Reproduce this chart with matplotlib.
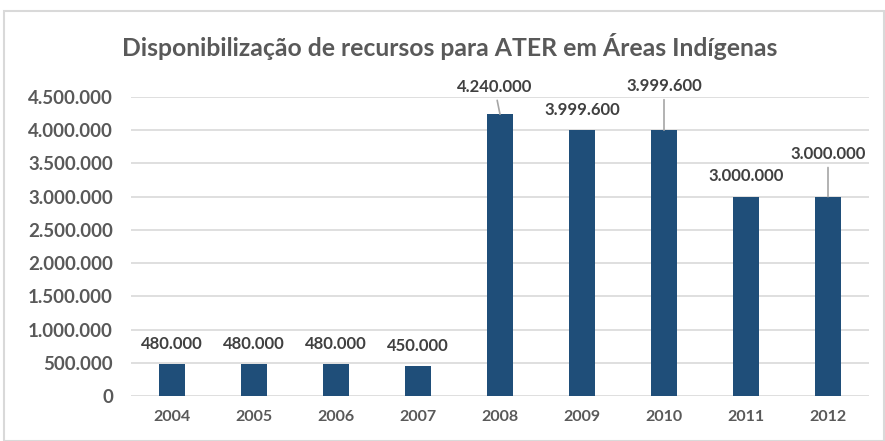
import matplotlib.pyplot as plt
from matplotlib.ticker import FuncFormatter, MultipleLocator

years = ["2004", "2005", "2006", "2007", "2008", "2009", "2010", "2011", "2012"]
values = [480000, 480000, 480000, 450000, 4240000, 3999600, 3999600, 3000000, 3000000]
# labels that Excel moved up, with a leader line (offset in points)
label_offsets = {"2008": (-4, 14), "2010": (0, 26), "2012": (0, 25)}

BAR = "#1F4E79"
TEXT = "#595959"
GRID = "#D9D9D9"

plt.rcParams["font.family"] = ["Lato", "DejaVu Sans"]


def fmt(v, pos=None):
    return f"{int(v):,}".replace(",", ".")


fig = plt.figure(figsize=(8.85, 4.41), dpi=100)
ax = fig.add_axes([131 / 885, 1 - 396 / 441, (869 - 131) / 885, (396 - 97) / 441])

x = range(len(years))
ax.bar(x, values, width=0.31, color=BAR, zorder=3)

ax.set_ylim(0, 4500000)
ax.set_xlim(-0.5, len(years) - 0.5)
ax.yaxis.set_major_locator(MultipleLocator(500000))
ax.yaxis.set_major_formatter(FuncFormatter(fmt))
ax.set_xticks(list(x))
ax.set_xticklabels(years)
ax.grid(axis="y", color=GRID, linewidth=1.2, zorder=0)
for s in ax.spines.values():
    s.set_visible(False)
ax.tick_params(length=0, colors=TEXT, labelsize=13.5)
ax.tick_params(axis="x", pad=10, labelsize=11.5)
ax.tick_params(axis="y", pad=13)
for lbl in ax.get_xticklabels() + ax.get_yticklabels():
    lbl.set_fontweight("bold")

for i, (yr, v) in enumerate(zip(years, values)):
    if yr in label_offsets:
        dx, dy = label_offsets[yr]
        ax.annotate(fmt(v), xy=(i, v), xytext=(dx, dy), textcoords="offset points",
                    ha="center", va="bottom", fontsize=12, fontweight="bold", color="#404040",
                    arrowprops=dict(arrowstyle="-", color="#A6A6A6", lw=1.2,
                                    shrinkA=2, shrinkB=0))
    else:
        ax.annotate(fmt(v), xy=(i, v), xytext=(0, 9), textcoords="offset points",
                    ha="center", va="bottom", fontsize=12, fontweight="bold", color="#404040")

fig.text(450 / 885, 1 - 47 / 441, "Disponibilização de recursos para ATER em Áreas Indígenas",
         ha="center", va="center", fontsize=17.8, fontweight="bold", color=TEXT)

border = plt.Rectangle((4 / 885, 0), 1 - 5 / 885, 1 - 11 / 441, transform=fig.transFigure,
                       fill=False, edgecolor="#D9D9D9", linewidth=1.5)
fig.patches.append(border)

fig.savefig("out.png", dpi=100)
